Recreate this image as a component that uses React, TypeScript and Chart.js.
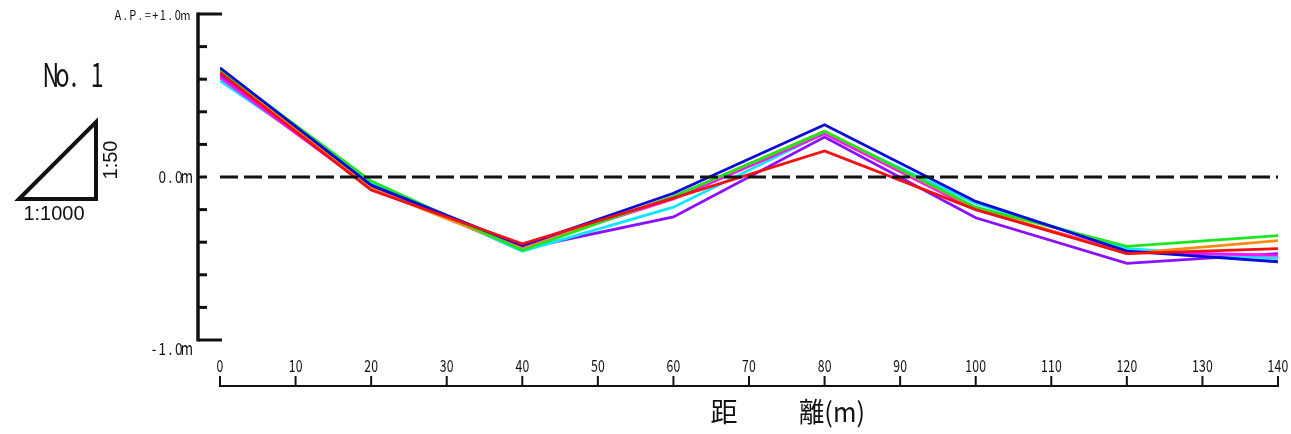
import React, { useEffect, useRef } from "react";
import { Chart, registerables } from "chart.js";

Chart.register(...registerables);

// ---- data ----
const distances = [0, 20, 40, 60, 80, 100, 120, 140];
const seriesRed = [0.64, -0.08, -0.41, -0.13, 0.16, -0.2, -0.47, -0.44];
const seriesBlue = [0.67, -0.05, -0.42, -0.1, 0.32, -0.15, -0.455, -0.52];
const seriesGreen = [0.66, -0.025, -0.45, -0.12, 0.28, -0.185, -0.425, -0.36];
const seriesOrange = [0.65, -0.07, -0.44, -0.12, 0.28, -0.19, -0.47, -0.39];
const seriesMagenta = [0.61, -0.07, -0.43, -0.135, 0.265, -0.2, -0.46, -0.48];
const seriesCyan = [0.59, -0.04, -0.455, -0.185, 0.27, -0.16, -0.44, -0.5];
const seriesPurple = [0.625, -0.06, -0.44, -0.245, 0.245, -0.25, -0.53, -0.47];
const seriesColors = ["#f21010", "#0a0ad8", "#1ee61e", "#ff8a10", "#ff10ff", "#10e6ff", "#8a10ff"];

const xTicks = [0, 10, 20, 30, 40, 50, 60, 70, 80, 90, 100, 110, 120, 130, 140];
const yTicks = [1, 0.8, 0.6, 0.4, 0.2, 0, -0.2, -0.4, -0.6, -0.8, -1];
const yLabelValues = [1, 0, -1];
const yLabels = ["A.P.=+1.0m", "0.0m", "-1.0m"];
const xTitleLeft = "距";
const xTitleRight = "離(m)";
const sectionName = "No. 1";
const scaleV = "1:50";
const scaleH = "1:1000";

const FONT = '"Noto Sans CJK JP", "Noto Sans", sans-serif';

function txt(
  ctx: CanvasRenderingContext2D,
  s: string,
  x: number,
  y: number,
  size: number,
  align: CanvasTextAlign,
  opts: { sx?: number; w?: number; family?: string; weight?: string } = {}
) {
  ctx.save();
  ctx.font = `${opts.weight || "normal"} ${size}px ${opts.family || FONT}`;
  const mw = ctx.measureText(s).width;
  const sx = opts.w ? opts.w / mw : opts.sx || 1;
  ctx.translate(x, y);
  ctx.scale(sx, 1);
  ctx.textAlign = align;
  ctx.textBaseline = "middle";
  ctx.fillStyle = "#111";
  ctx.fillText(s, 0, 0);
  ctx.restore();
}

// half-width monospace look (each character in a fixed cell)
function mono(
  ctx: CanvasRenderingContext2D,
  s: string,
  x: number,
  y: number,
  size: number,
  cell: number,
  align: "left" | "right" | "center",
  gsx = 0.8
) {
  const total = cell * s.length;
  const x0 = align === "left" ? x : align === "right" ? x - total : x - total / 2;
  ctx.save();
  ctx.font = `${size}px ${FONT}`;
  ctx.textAlign = "center";
  ctx.textBaseline = "middle";
  ctx.fillStyle = "#111";
  for (let i = 0; i < s.length; i++) {
    const cx = x0 + cell * (i + 0.5);
    ctx.save();
    ctx.translate(cx, y);
    ctx.scale(gsx, 1);
    ctx.fillText(s[i], 0, 0);
    ctx.restore();
  }
  ctx.restore();
}

const decorPlugin = {
  id: "decor",
  afterDraw(chart: any) {
    const ctx: CanvasRenderingContext2D = chart.ctx;
    const xs = chart.scales.x;
    const ys = chart.scales.y;
    ctx.save();
    ctx.strokeStyle = "#111";
    ctx.lineCap = "butt";

    // Y axis
    const axX = 198;
    ctx.lineWidth = 3.5;
    ctx.beginPath();
    ctx.moveTo(axX, ys.getPixelForValue(1) - 1.5);
    ctx.lineTo(axX, ys.getPixelForValue(-1) + 1.5);
    ctx.stroke();
    ctx.lineWidth = 3;
    yTicks.forEach((v) => {
      const y = ys.getPixelForValue(v);
      const long = Math.abs(v) === 1;
      ctx.beginPath();
      ctx.moveTo(axX, y);
      ctx.lineTo(long ? 222 : 207, y);
      ctx.stroke();
    });
    yLabelValues.forEach((v, i) => {
      let y = ys.getPixelForValue(v);
      if (v === -1) y += 9;
      if (v === 1) y += 1;
      if (v === 1) mono(ctx, yLabels[i], 189, y, 13, 7.5, "right", 0.85);
      else mono(ctx, yLabels[i], 191, y, 17, 8.2, "right", 0.8);
    });

    // X axis
    const axY = 386;
    ctx.lineWidth = 2;
    ctx.beginPath();
    ctx.moveTo(xs.getPixelForValue(0) - 1, axY);
    ctx.lineTo(xs.getPixelForValue(140) + 1, axY);
    ctx.stroke();
    xTicks.forEach((v) => {
      const x = xs.getPixelForValue(v);
      ctx.beginPath();
      ctx.moveTo(x, axY);
      ctx.lineTo(x, 376);
      ctx.stroke();
      mono(ctx, String(v), x, 366, 17, 7, "center", 0.72);
    });
    txt(ctx, xTitleLeft, 724, 412, 27, "center");
    txt(ctx, xTitleRight, 799, 412, 27, "left", { w: 66 });

    // Left annotations
    mono(ctx, sectionName, 45, 74, 33, 11.6, "left", 0.7);
    ctx.lineWidth = 4;
    ctx.lineJoin = "miter";
    ctx.beginPath();
    ctx.moveTo(19, 199);
    ctx.lineTo(96, 122);
    ctx.lineTo(96, 199);
    ctx.closePath();
    ctx.stroke();
    txt(ctx, scaleH, 54, 214, 20, "center", { family: '"Liberation Sans", Arial, sans-serif' });
    ctx.save();
    ctx.translate(111, 160);
    ctx.rotate(-Math.PI / 2);
    txt(ctx, scaleV, 0, 0, 20, "center", { family: '"Liberation Sans", Arial, sans-serif' });
    ctx.restore();

    ctx.restore();
  },
};

function mk(values: number[]) {
  return values.map((v, i) => ({ x: distances[i], y: v }));
}

export default function App() {
  const ref = useRef<HTMLCanvasElement | null>(null);
  useEffect(() => {
    if (!ref.current) return;
    const all = [seriesRed, seriesBlue, seriesGreen, seriesOrange, seriesMagenta, seriesCyan, seriesPurple];
    const datasets: any[] = [
      {
        label: "zero",
        data: [
          { x: distances[0], y: 0 },
          { x: distances[distances.length - 1], y: 0 },
        ],
        borderColor: "#111",
        borderWidth: 3,
        borderDash: [18, 6],
        pointRadius: 0,
      },
      ...all.map((s, i) => ({
        label: "s" + i,
        data: mk(s),
        borderColor: seriesColors[i],
        borderWidth: 2.8,
        pointRadius: 0,
        tension: 0,
      })),
    ];
    const chart = new Chart(ref.current, {
      type: "line",
      data: { datasets },
      options: {
        animation: false,
        responsive: false,
        devicePixelRatio: 1,
        layout: { padding: { left: 220, right: 13, top: 14, bottom: 94 } },
        plugins: { legend: { display: false }, tooltip: { enabled: false } },
        scales: {
          x: { type: "linear", min: 0, max: 140, display: false },
          y: { type: "linear", min: -1, max: 1, display: false },
        },
        elements: { line: { borderCapStyle: "butt", borderJoinStyle: "miter" } },
      } as any,
      plugins: [decorPlugin],
    });
    return () => chart.destroy();
  }, []);
  return (
    <div style={{ position: "absolute", left: 0, top: 0, width: 1291, height: 434, background: "#fff" }}>
      <canvas ref={ref} width={1291} height={434} style={{ display: "block", width: 1291, height: 434 }} />
    </div>
  );
}
